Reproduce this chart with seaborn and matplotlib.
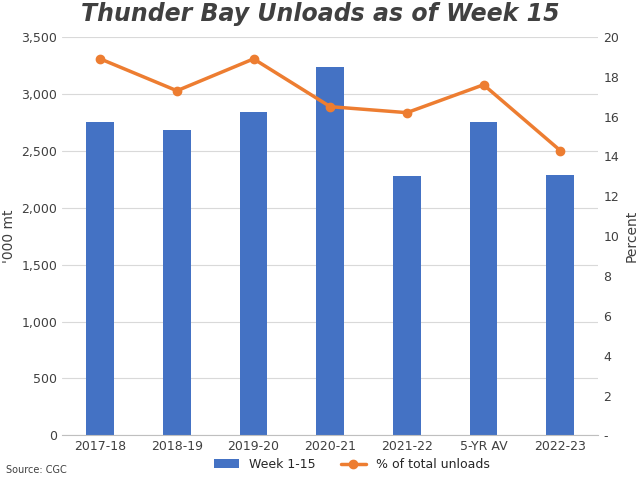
import matplotlib
matplotlib.use("Agg")
import matplotlib.pyplot as plt
import seaborn as sns
import pandas as pd
from matplotlib.ticker import FuncFormatter

categories = ["2017-18", "2018-19", "2019-20", "2020-21", "2021-22", "5-YR AV", "2022-23"]
unloads = [2750, 2680, 2845, 3235, 2275, 2755, 2285]
pct_total = [18.9, 17.3, 18.9, 16.5, 16.2, 17.6, 14.3]

sns.set_style("white")
plt.rcParams['font.family'] = ['DejaVu Sans']
df = pd.DataFrame({"cat": categories, "unloads": unloads, "pct": pct_total})

fig = plt.figure(figsize=(6.4, 4.8), dpi=100)
ax = fig.add_axes([0.097, 0.093, 0.838, 0.83])
sns.barplot(data=df, x="cat", y="unloads", color="#4472C4", width=0.36, ax=ax,
            label="Week 1-15", saturation=1, edgecolor="none", linewidth=0)
if ax.get_legend() is not None:
    ax.get_legend().remove()
ax.set_ylim(0, 3500)
ax.set_yticks(range(0, 3501, 500))
ax.yaxis.set_major_formatter(FuncFormatter(lambda v, p: f"{int(v):,}"))
ax.set_ylabel("'000 mt", fontsize=10, color="#404040")
ax.set_xlabel("")
ax.grid(axis="y", color="#d9d9d9", lw=0.8)
ax.set_axisbelow(True)
for s in ["top", "right", "left"]:
    ax.spines[s].set_visible(False)
ax.spines["bottom"].set_color("#bfbfbf")
ax.tick_params(colors="#404040", labelsize=9, length=0)

ax2 = ax.twinx()
ax2.plot(range(len(categories)), pct_total, color="#ED7D31", lw=2.5, marker="o", ms=6, label="% of total unloads")
ax2.set_ylim(0, 20)
ax2.set_yticks(range(0, 21, 2))
ax2.yaxis.set_major_formatter(FuncFormatter(lambda v, p: "-" if v == 0 else f"{int(v)}"))
ax2.set_ylabel("Percent", fontsize=10, color="#404040")
for s in ax2.spines.values():
    s.set_visible(False)
ax2.tick_params(colors="#404040", labelsize=9, length=0)

fig.suptitle("Thunder Bay Unloads as of Week 15", fontsize=17, fontweight="bold", fontstyle="italic", color="#404040", y=0.995)
h1, l1 = ax.get_legend_handles_labels()
h2, l2 = ax2.get_legend_handles_labels()
fig.legend(h1 + h2, l1 + l2, loc="lower center", ncol=2, frameon=False, fontsize=9, bbox_to_anchor=(0.55, -0.005))
fig.text(0.01, 0.015, "Source: CGC", fontsize=7, color="#404040")
fig.savefig("out.png", dpi=100)
